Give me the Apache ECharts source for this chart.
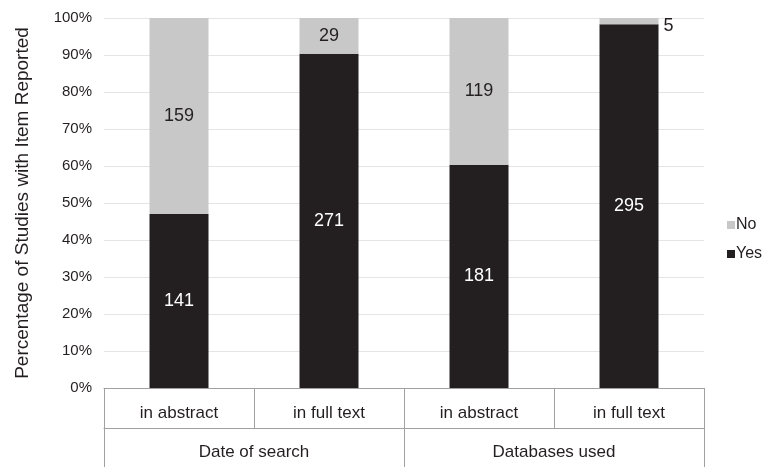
<!DOCTYPE html>
<html><head><meta charset="utf-8">
<script src="https://cdn.jsdelivr.net/npm/echarts@6/dist/echarts.min.js"></script>
<style>html,body{margin:0;padding:0;background:#fff}#c{width:768px;height:467px}</style>
</head><body><div id="c"></div>
<script>
const subCategories = ['in abstract', 'in full text', 'in abstract', 'in full text'];
const groups = ['Date of search', 'Databases used'];
const yesCounts = [141, 271, 181, 295];
const noCounts = [159, 29, 119, 5];
const yTicks = [0, 10, 20, 30, 40, 50, 60, 70, 80, 90, 100];

const totals = yesCounts.map((v, i) => v + noCounts[i]);
const yesPct = yesCounts.map((v, i) => ({ value: v / totals[i] * 100, count: v }));
const noPct = noCounts.map((v, i) => {
  const d = { value: v / totals[i] * 100, count: v };
  if (v / totals[i] < 0.05) d.label = { position: 'right', offset: [0, 5] };
  return d;
});

const FONT = 'Liberation Sans, Arial, sans-serif';
const chart = echarts.init(document.getElementById('c'), null, { renderer: 'canvas' });
chart.setOption({
  animation: false,
  textStyle: { fontFamily: FONT },
  grid: { left: 104, right: 64, top: 18, bottom: 79 },
  legend: {
    orient: 'vertical', left: 722, top: 212, itemGap: 13,
    itemWidth: 8, itemHeight: 8, icon: 'rect',
    data: ['No', 'Yes'],
    textStyle: { fontSize: 16, color: '#231f20', fontFamily: FONT, padding: [0, 0, 0, -4] }
  },
  xAxis: [{
    type: 'category', data: subCategories, position: 'bottom',
    axisLine: { show: true, lineStyle: { color: '#a0a0a0', width: 1 } },
    axisTick: { show: true, length: 40, lineStyle: { color: '#a0a0a0' } },
    axisLabel: { fontSize: 17, color: '#231f20', margin: 17, fontFamily: FONT }
  }, {
    type: 'category', data: groups, position: 'bottom', offset: 40,
    axisLine: { show: true, lineStyle: { color: '#a0a0a0', width: 1 } },
    axisTick: { show: true, length: 40, lineStyle: { color: '#a0a0a0' } },
    axisLabel: { fontSize: 17, color: '#231f20', margin: 16, fontFamily: FONT }
  }],
  yAxis: {
    type: 'value', min: 0, max: 100, interval: 10,
    name: 'Percentage of Studies with Item Reported', nameLocation: 'middle', nameGap: 72,
    nameTextStyle: { fontSize: 19, color: '#231f20', fontFamily: FONT },
    axisLine: { show: false }, axisTick: { show: false },
    axisLabel: { fontSize: 15, color: '#231f20', margin: 12, fontFamily: FONT,
      formatter: v => yTicks.includes(v) ? v + '%' : '' },
    splitLine: { lineStyle: { color: '#e4e4e4', width: 1 } }
  },
  series: [{
    name: 'Yes', type: 'bar', stack: 'a', barWidth: 59, xAxisIndex: 0,
    itemStyle: { color: '#231f20' },
    label: { show: true, position: 'inside', color: '#ffffff', fontSize: 18, fontFamily: FONT,
      formatter: p => p.data.count },
    data: yesPct
  }, {
    name: 'No', type: 'bar', stack: 'a', barWidth: 59, xAxisIndex: 0,
    itemStyle: { color: '#c8c8c8' },
    label: { show: true, position: 'inside', color: '#231f20', fontSize: 18, fontFamily: FONT,
      formatter: p => p.data.count },
    data: noPct
  }]
});
</script></body></html>
